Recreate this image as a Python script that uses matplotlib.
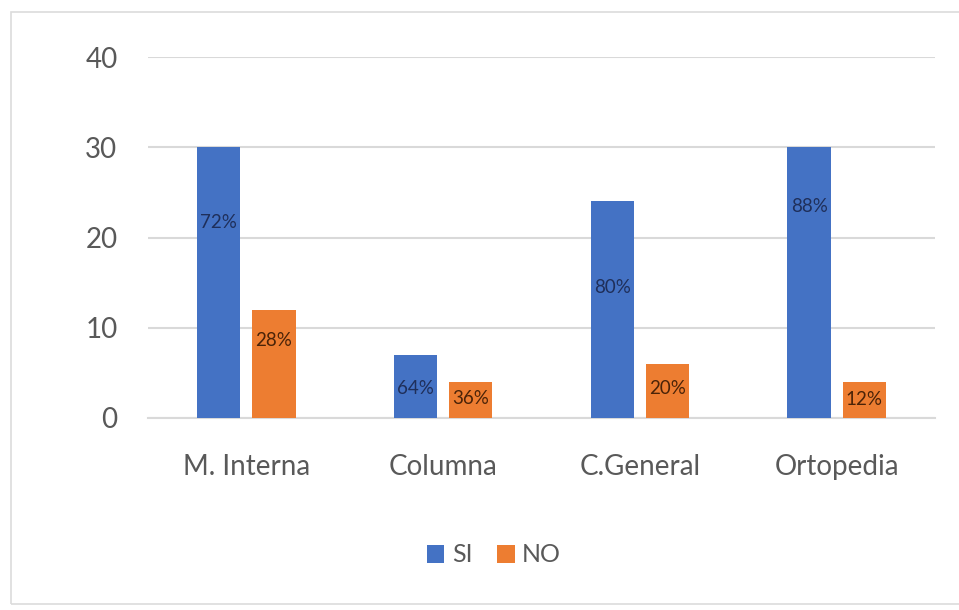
import numpy as np
import matplotlib.pyplot as plt
from matplotlib.patches import Rectangle

# servicios y respuestas
servicios = ["M. Interna", "Columna", "C.General", "Ortopedia"]
si = [30, 7, 24, 30]
no = [12, 4, 6, 4]
pct_si = ["72%", "64%", "80%", "88%"]
pct_no = ["28%", "36%", "20%", "12%"]
# altura de cada etiqueta dentro de la barra
y_lbl_si = [21.7, 3.3, 14.5, 23.4]
y_lbl_no = [8.6, 2.2, 3.3, 2.0]

AZUL = "#4472C4"
NARANJA = "#ED7D31"
GRIS = "#595959"

plt.rcParams["font.family"] = ["Lato", "DejaVu Sans"]

fig = plt.figure(figsize=(9.59, 6.10), dpi=100)
# marco del grafico (el borde derecho queda fuera de la imagen)
fig.patches.append(Rectangle((11 / 959, 6 / 610), 960 / 959, 592 / 610,
                             transform=fig.transFigure, fill=False,
                             edgecolor="#DCDCDC", linewidth=1.2, clip_on=False))

ax = fig.add_axes([148 / 959, 1 - 418 / 610, 787 / 959, 361 / 610])

x = np.arange(len(servicios))
w = 0.22
b1 = ax.bar(x - 0.14, si, w, color=AZUL, label="SI", zorder=3)
b2 = ax.bar(x + 0.14, no, w, color=NARANJA, label="NO", zorder=3)

for i in range(len(servicios)):
    ax.text(x[i] - 0.14, y_lbl_si[i], pct_si[i], ha="center", va="center",
            fontsize=13.5, color="#1F2F5A", zorder=4)
    ax.text(x[i] + 0.14, y_lbl_no[i], pct_no[i], ha="center", va="center",
            fontsize=13.5, color="#4A2308", zorder=4)

ax.set_xlim(-0.5, len(servicios) - 0.5)
ax.set_ylim(0, 40)
ax.set_yticks([0, 10, 20, 30, 40])
ax.yaxis.grid(True, color="#D9D9D9", linewidth=1.5, zorder=0)
ax.set_xticks(x)
ax.set_xticklabels(servicios)
ax.tick_params(axis="both", length=0, labelsize=20, colors=GRIS)
ax.tick_params(axis="x", pad=26)
ax.tick_params(axis="y", pad=22)
for s in ["top", "right", "left"]:
    ax.spines[s].set_visible(False)
ax.spines["bottom"].set_color("#D9D9D9")
ax.spines["bottom"].set_linewidth(1.5)

leg = fig.legend(handles=[b1, b2], loc="center", bbox_to_anchor=(0.515, 1 - 555 / 610),
                 ncol=2, frameon=False, fontsize=18, handlelength=0.7,
                 handleheight=0.7, handletextpad=0.3, columnspacing=1.0)
for t in leg.get_texts():
    t.set_color(GRIS)

fig.savefig("out.png", dpi=100, facecolor="white")
